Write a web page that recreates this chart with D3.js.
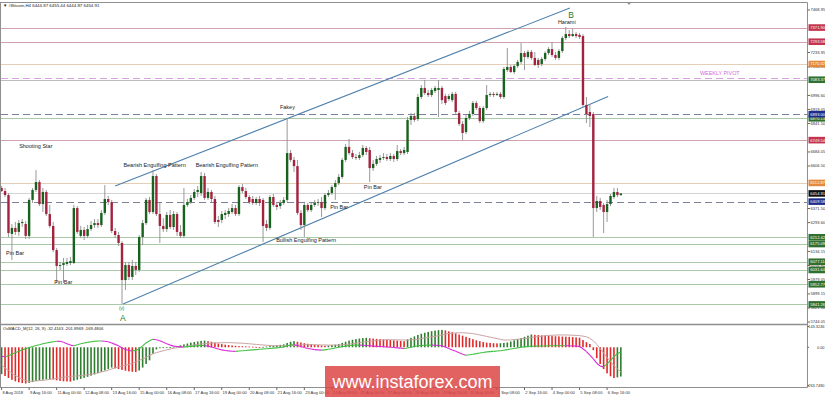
<!DOCTYPE html>
<html>
<head>
<meta charset="utf-8">
<script src="https://cdn.jsdelivr.net/npm/d3@7"></script>
<style>
  body { margin: 0; background: #fff; }
  svg { display: block; font-family: "Liberation Sans", Arial, sans-serif; }
</style>
</head>
<body>
<div id="chart"></div>
<script>
// H4 candles, one row per bar: [open, high, low, close], first bar 8 Aug 2018 08:00
const candles = [
  [6485,6496,6463,6468],[6468,6485,6435,6446],[6446,6457,6214,6236],[6231,6286,6087,6264],[6264,6297,6225,6242],
  [6242,6308,6220,6291],[6291,6313,6270,6297],[6286,6302,6203,6220],[6220,6430,6203,6419],[6419,6485,6402,6474],
  [6474,6584,6463,6518],[6518,6529,6385,6396],[6396,6485,6352,6463],[6463,6474,6330,6341],[6341,6391,6264,6275],
  [6275,6297,6131,6142],[6142,6153,5960,6054],[6054,6076,6032,6059],[6059,6098,5960,6070],[6065,6098,6054,6076],
  [6070,6103,6059,6081],[6070,6391,6065,6374],[6374,6385,6231,6242],[6220,6275,6208,6253],[6253,6269,6197,6220],
  [6220,6280,6208,6258],[6258,6302,6247,6280],[6280,6313,6264,6291],[6291,6313,6264,6280],[6280,6363,6269,6347],
  [6347,6501,6336,6424],[6424,6441,6391,6407],[6407,6419,6236,6247],[6247,6264,6208,6225],[6225,6242,6164,6181],
  [6181,6191,5844,5976],[5976,6076,5921,6059],[6059,6076,5976,5993],[5993,6087,5976,6054],[6054,6076,6004,6032],
  [6032,6225,6021,6214],[6214,6308,6170,6291],[6291,6430,6280,6419],[6419,6435,6341,6352],[6352,6584,6341,6551],
  [6551,6562,6330,6341],[6341,6402,6181,6275],[6275,6319,6242,6258],[6258,6352,6242,6336],[6336,6363,6258,6269],
  [6269,6358,6253,6341],[6341,6352,6220,6242],[6242,6280,6208,6220],[6220,6485,6208,6391],[6391,6424,6380,6407],
  [6407,6446,6396,6430],[6430,6479,6419,6463],[6463,6496,6435,6474],[6457,6573,6441,6551],[6551,6568,6419,6430],
  [6430,6485,6419,6463],[6463,6474,6407,6424],[6424,6441,6286,6297],[6308,6330,6269,6297],[6308,6358,6291,6341],
  [6336,6363,6313,6347],[6341,6374,6325,6358],[6352,6396,6341,6374],[6374,6391,6330,6341],[6341,6501,6330,6490],
  [6490,6507,6457,6468],[6468,6485,6424,6435],[6435,6446,6396,6407],[6424,6441,6391,6402],[6402,6435,6391,6424],
  [6424,6441,6385,6402],[6419,6430,6186,6275],[6286,6308,6247,6264],[6264,6446,6253,6435],[6435,6452,6380,6391],
  [6391,6407,6363,6380],[6385,6419,6369,6402],[6402,6435,6391,6419],[6419,6872,6407,6678],[6678,6695,6629,6640],
  [6640,6656,6573,6606],[6606,6640,6336,6347],[6347,6363,6253,6280],[6280,6402,6214,6391],[6391,6402,6352,6363],
  [6363,6408,6352,6391],[6391,6419,6380,6402],[6402,6424,6385,6407],[6407,6435,6325,6374],[6374,6457,6363,6446],
  [6446,6474,6435,6457],[6457,6501,6446,6490],[6490,6529,6419,6512],[6512,6562,6501,6546],[6546,6651,6535,6640],
  [6640,6728,6629,6712],[6712,6756,6667,6678],[6678,6695,6645,6656],[6656,6673,6640,6651],[6651,6684,6640,6667],
  [6667,6723,6656,6706],[6706,6717,6667,6684],[6695,6712,6518,6595],[6595,6640,6579,6618],[6618,6662,6607,6645],
  [6640,6667,6623,6651],[6651,6678,6640,6656],[6656,6673,6634,6645],[6645,6678,6634,6662],[6662,6673,6629,6645],
  [6645,6723,6634,6689],[6689,6700,6667,6678],[6678,6712,6667,6695],[6684,6877,6673,6861],[6861,6900,6833,6883],
  [6883,6900,6850,6861],[6866,7005,6855,6988],[6988,7054,6977,7038],[7038,7082,6999,7010],[7010,7027,6988,6999],
  [6999,7038,6988,7027],[7021,7049,7010,7038],[7027,7082,6877,7038],[7038,7049,6949,6971],[6993,7005,6944,6955],
  [6977,7005,6966,6993],[6971,7016,6960,7005],[7005,7016,6894,6905],[6899,6911,6828,6839],[6839,6855,6750,6789],
  [6794,6888,6783,6872],[6872,6911,6861,6894],[6894,6966,6883,6955],[6955,6966,6916,6927],[6927,6938,6844,6855],
  [6855,6938,6844,6927],[6927,7054,6916,6999],[6999,7016,6988,7005],[7005,7016,6988,6999],[6999,7016,6994,7005],
  [7005,7016,6977,6988],[6988,7154,6977,7143],[7137,7259,7126,7154],[7154,7165,7121,7126],[7126,7170,7115,7159],
  [7159,7193,7148,7182],[7182,7287,7170,7231],[7231,7242,7137,7209],[7209,7248,7198,7237],[7237,7248,7193,7204],
  [7204,7237,7159,7165],[7193,7204,7148,7165],[7170,7209,7159,7198],[7198,7242,7187,7231],[7231,7264,7220,7253],
  [7253,7292,7209,7220],[7220,7237,7193,7204],[7204,7253,7193,7242],[7242,7325,7231,7314],[7314,7375,7303,7336],
  [7336,7358,7314,7325],[7325,7364,7320,7336],[7336,7347,7314,7325],[7331,7342,7309,7320],[7325,7336,6933,6944],
  [6944,6988,6844,6894],[6905,6949,6822,6883],[6894,6905,6214,6374],[6374,6441,6352,6413],[6413,6430,6363,6380],
  [6391,6402,6236,6352],[6352,6419,6297,6396],[6396,6452,6385,6441],[6435,6485,6424,6463],[6463,6485,6435,6446],
  [6444.87,6455.44,6444.87,6454.91]
];

// OsMACD_M(12,26,9) buffers
const macdMain = [
  -185,-198,-212,-225,-235,-242,-247,-250,
  -246,-240,-233,-228,-224,-221,-219,
  -222,-228,-232,-235,-236,-237,
  -230,-224,-218,-211,-204,-196,-188,-179,-170,-160,-150,-140,
  -145,-150,-156,-162,-166,-169,-170,
  -160,-140,-115,-90,-45,-15,-6,-3,-1,2,4,
  8,14,20,26,32,36,40,44,46,
  42,38,32,26,22,18,15,12,10,
  8,7,6,5,4,3,2,
  3,5,8,11,14,17,20,30,38,42,
  38,33,28,24,21,18,15,12,10,
  12,15,18,22,30,38,46,52,56,60,63,65,
  62,60,58,56,54,52,50,48,46,44,42,
  55,65,75,85,93,100,106,111,115,118,120,
  116,110,104,96,88,80,72,64,56,48,42,36,32,
  30,28,27,28,30,33,
  40,48,56,64,72,80,88,
  86,84,82,80,78,77,76,75,74,73,72,70,68,66,
  50,35,22,
  -20,-75,-115,-150,-180,-200,-212,-208,-201.8969
];
const macdSignal = [
  -123,-142,-160,-178,-195,-208,-220,-229,-235,
  -234,-232,-230,-228,-225,-222,-219,-215,
  -211,-207,-203,-201,-199,-198,
  -195,-192,-189,-185,-181,-177,-170,-165,-158,-150,
  -142,-135,-129,-124,-118,-110,-101,
  -91,-81,-70,-58,-45,-37,-30,
  -24,-18,-12,-7,-3,0,
  4,8,12,16,20,23,
  25,27,29,30,31,31,32,32,
  31,30,29,28,26,24,22,20,
  18,16,14,12,11,10,10,10,
  11,12,13,15,16,17,18,18,
  17,17,16,16,15,15,15,15,
  17,19,21,25,28,32,35,38,
  41,44,47,50,51,52,52,52,
  51,51,50,50,51,53,56,60,
  64,68,72,75,80,85,90,95,
  97,99,100,100,99,97,94,90,
  85,80,75,70,65,60,55,50,
  50,51,53,55,58,61,64,68,
  71,74,77,80,82,83,84,85,
  85,85,84,83,82,80,77,
  72,62,45,20,-10,-40,-70,-100,-125,-150,-169.4806
];
const osma = [
  -62,-65,-58,-48,-38,-28,-18,-10,-2,
  5,12,18,24,30,34,38,42,
  41,35,25,15,10,18,
  24,29,34,38,41,43,43,42,38,30,
  20,10,-5,-15,-22,-25,-22,
  -10,10,30,45,55,52,45,
  35,25,15,8,5,3,
  2,4,6,8,10,12,
  12,8,2,-5,-12,-18,-22,-25,
  -27,-28,-26,-24,-22,-20,-18,-16,
  -14,-12,-10,-8,-6,-4,-2,2,
  10,16,18,12,5,-2,-8,-12,
  -16,-18,-20,-18,-14,-10,-5,0,
  4,8,12,14,15,15,14,12,
  10,8,6,5,4,2,0,-2,
  -4,-6,-8,-5,0,5,10,12,
  14,15,15,14,12,10,2,-8,
  -18,-28,-38,-48,-55,-52,-48,-44,
  -40,-36,-32,-30,-28,-26,-24,-20,
  -16,-12,-8,-4,0,3,5,7,
  8,8,9,9,10,10,10,10,
  11,11,10,9,8,5,-10,
  -30,-55,-80,-110,-130,-135,-115,-90,-65,-45,-32.4163
];

// time axis: bar index and label
const timeTickIndex = [0,8,16,24,32,40,48,56,64,72,80,88,96,104,112,120,128,136,144,152,160,168,176];
const timeTickText = ["8 Aug 2018","9 Aug 16:00","11 Aug 00:00","12 Aug 08:00","13 Aug 16:00","15 Aug 00:00",
  "16 Aug 08:00","17 Aug 16:00","19 Aug 00:00","20 Aug 08:00","21 Aug 16:00","23 Aug 00:00","24 Aug 08:00",
  "25 Aug 16:00","27 Aug 00:00","28 Aug 08:00","29 Aug 16:00","31 Aug 00:00","1 Sep 08:00","2 Sep 16:00",
  "4 Sep 00:00","5 Sep 08:00","6 Sep 16:00"];

// price axis tick labels
const priceTicks = [7468.95,7233.95,7154.05,6996.60,6919.05,6841.50,6684.05,6606.50,6371.50,6293.60,
  6134.15,6056.60,5979.05,5899.15,5821.60,5744.05];
const macdTicks = [143.3246, 0, -263.748];

// horizontal levels by kind
const redLevels = [7371.90, 7293.58, 6749.54];
const orangeLevels = [7170.32, 6512.87];
const greenLevels = [7083.37, 6870.13, 6212.42, 6175.09, 6077.11, 6031.64, 5952.77, 5841.26];
const navyLevels = [6893.00, 6409.58];
const weeklyPivot = 7092.21;
const lastPrice = 6454.91;

// channel: [barIndex, price] end points
const channelUpper = [[33, 6496], [165.2, 7480]];
const channelLower = [[35.3, 5844], [176.3, 6991]];

// annotation texts with anchor [barIndex, price]
const patternNotes = [
  ["Shooting Star", 5.1, 6706], ["Pin Bar", 1.3, 6114], ["Pin Bar", 15.3, 5954],
  ["Bearish Engulfing Pattern", 35.4, 6600], ["Bearish Engulfing Pattern", 56.4, 6600],
  ["Fakey", 80.9, 6922], ["Pin Bar", 105.3, 6479], ["Pin Bar", 95.5, 6369],
  ["Bullish Engulfing Pattern", 79.8, 6186], ["Harami", 161.7, 7391]
];
const wavePoints = [["B", 164.7, 7424], ["A", 34.4, 5749]];

const W = 825, H = 397;
const plotRight = 807.5, mainTop = 2.5, sep = 324.5, macdBottom = 387.5;

const svg = d3.select("#chart").append("svg")
  .attr("width", W).attr("height", H).attr("viewBox", [0, 0, W, H]);

const x = d3.scaleLinear().domain([0, 234]).range([1.6, 806.6]);
const y = d3.scaleLinear().domain([5744.05, 7468.95]).range([322, 10]);
const ym = d3.scaleLinear().domain([-263.748, 143.3246]).range([385.5, 326.5]);

const defs = svg.append("defs");
defs.append("clipPath").attr("id", "clipMain").append("rect")
  .attr("x", 1).attr("y", mainTop).attr("width", plotRight - 1).attr("height", sep - mainTop);
defs.append("clipPath").attr("id", "clipMacd").append("rect")
  .attr("x", 1).attr("y", sep + 1).attr("width", plotRight - 1).attr("height", macdBottom - sep - 1);

const main = svg.append("g").attr("clip-path", "url(#clipMain)");

// horizontal levels
function levelLines(values, color, dash) {
  main.selectAll(null).data(values).join("line")
    .attr("x1", 1).attr("x2", plotRight)
    .attr("y1", d => Math.round(y(d)) + 0.5).attr("y2", d => Math.round(y(d)) + 0.5)
    .attr("stroke", color).attr("stroke-width", 1)
    .attr("stroke-dasharray", dash || null);
}
levelLines([lastPrice], "#d4d4d4");
levelLines(redLevels, "#cfa3ad");
levelLines(orangeLevels, "#e2cfb6");
levelLines(greenLevels.slice(0, 1), "#bdbdbd");
levelLines(greenLevels.slice(1), "#a9c9a9");
levelLines(navyLevels, "#7e8299", "7,4");
levelLines([weeklyPivot], "#d8a2e0", "7,4");

main.append("text").attr("x", 700).attr("y", y(weeklyPivot) - 3)
  .attr("font-size", 5.4).attr("fill", "#d36ad8").text("WEEKLY PIVOT");

// channel lines
[channelUpper, channelLower].forEach(pts => {
  main.append("line")
    .attr("x1", x(pts[0][0])).attr("y1", y(pts[0][1]))
    .attr("x2", x(pts[1][0])).attr("y2", y(pts[1][1]))
    .attr("stroke", "#4f80ad").attr("stroke-width", 1.1);
});

// candles
main.selectAll("line.wick").data(candles).join("line").attr("class", "wick")
  .attr("x1", (d, i) => x(i)).attr("x2", (d, i) => x(i))
  .attr("y1", d => y(d[1])).attr("y2", d => y(d[2]))
  .attr("stroke", "#8d8d8d").attr("stroke-width", 0.9);
main.selectAll("rect.body").data(candles).join("rect").attr("class", "body")
  .attr("x", (d, i) => x(i) - 1.2).attr("width", 2.4)
  .attr("y", d => y(Math.max(d[0], d[3])))
  .attr("height", d => Math.max(0.9, Math.abs(y(d[0]) - y(d[3]))))
  .attr("fill", d => d[3] >= d[0] ? "#17621c" : "#a3233f");

// annotations
main.selectAll("text.note").data(patternNotes).join("text").attr("class", "note")
  .attr("x", d => x(d[1])).attr("y", d => y(d[2]))
  .attr("font-size", 5.5).attr("fill", "#222").text(d => d[0]);
main.selectAll("text.wave").data(wavePoints).join("text").attr("class", "wave")
  .attr("x", d => x(d[1])).attr("y", d => y(d[2]))
  .attr("font-size", 8.5).attr("fill", "#2b7a2b").text(d => d[0]);
main.append("text").attr("x", x(34.1)).attr("y", y(5810))
  .attr("font-size", 4.6).attr("fill", "#2b7a2b").text("(v)");

// header
svg.append("text").attr("x", 3).attr("y", 7).attr("font-size", 4.4).attr("fill", "#222")
  .text("\u25BC #Bitcoin,H4  6444.87 6455.44 6444.87 6454.91");

// MACD panel
const macd = svg.append("g").attr("clip-path", "url(#clipMacd)");
macd.selectAll("rect.hist").data(macdMain).join("rect").attr("class", "hist")
  .attr("x", (d, i) => x(i) - 0.8).attr("width", 1.6)
  .attr("y", d => Math.min(ym(0), ym(d)))
  .attr("height", d => Math.max(0.8, Math.abs(ym(d) - ym(0))))
  .attr("fill", (d, i) => (i === 0 || d >= macdMain[i - 1]) ? "#2f7d2f" : "#e02a2a");

macd.append("path").datum(macdSignal)
  .attr("d", d3.line().x((d, i) => x(i)).y(d => ym(d)))
  .attr("fill", "none").attr("stroke", "#c9a3a3").attr("stroke-width", 1);

macd.selectAll("line.osma").data(osma.slice(1)).join("line").attr("class", "osma")
  .attr("x1", (d, i) => x(i)).attr("y1", (d, i) => ym(osma[i]))
  .attr("x2", (d, i) => x(i + 1)).attr("y2", d => ym(d))
  .attr("stroke", (d, i) => d >= osma[i] ? "#3fbf3f" : "#d92bd9")
  .attr("stroke-width", 1.1);

svg.append("text").attr("x", 3).attr("y", 330).attr("font-size", 4.2).attr("fill", "#222")
  .text("OsMACD_M(12, 26, 9) -32.4163 -201.8969 -169.4806");

// frames
const frame = svg.append("g").attr("stroke", "#8f8f8f").attr("fill", "none");
frame.append("line").attr("x1", 0).attr("x2", plotRight).attr("y1", mainTop).attr("y2", mainTop);
frame.append("line").attr("x1", 0.5).attr("x2", 0.5).attr("y1", mainTop).attr("y2", macdBottom);
frame.append("line").attr("x1", plotRight).attr("x2", plotRight).attr("y1", mainTop).attr("y2", macdBottom);
frame.append("line").attr("x1", 0).attr("x2", plotRight).attr("y1", sep).attr("y2", sep).attr("stroke-width", 1.6);
frame.append("line").attr("x1", 0).attr("x2", plotRight).attr("y1", macdBottom).attr("y2", macdBottom);
svg.append("path").attr("d", `M627,${mainTop}L631,${mainTop}L629,${mainTop + 2.5}Z`).attr("fill", "#8f8f8f");

// price axis
const axisG = svg.append("g").attr("font-size", 4.1).attr("fill", "#333");
axisG.selectAll("line").data(priceTicks).join("line")
  .attr("x1", plotRight).attr("x2", plotRight + 2.5)
  .attr("y1", d => y(d)).attr("y2", d => y(d)).attr("stroke", "#666");
axisG.selectAll("text").data(priceTicks).join("text")
  .attr("x", 810.5).attr("y", d => y(d)).attr("dy", "0.35em")
  .text(d => d.toFixed(2));

const macdAxis = svg.append("g").attr("font-size", 3.9).attr("fill", "#333");
macdAxis.selectAll("line").data(macdTicks).join("line")
  .attr("x1", plotRight).attr("x2", plotRight + 1.5)
  .attr("y1", d => ym(d)).attr("y2", d => ym(d)).attr("stroke", "#666");
macdAxis.selectAll("text").data(macdTicks).join("text")
  .attr("x", 824.5).attr("text-anchor", "end").attr("y", d => ym(d)).attr("dy", "0.35em")
  .text(d => d === 0 ? "0.00" : d.toFixed(4));

// coloured price labels
function priceTags(values, color) {
  const tg = svg.append("g");
  tg.selectAll("rect").data(values).join("rect")
    .attr("x", 808.5).attr("y", d => y(d) - 3.3).attr("width", 16.5).attr("height", 6.6)
    .attr("fill", color);
  tg.selectAll("text").data(values).join("text")
    .attr("x", 810.3).attr("y", d => y(d)).attr("dy", "0.35em")
    .attr("font-size", 4.1).attr("fill", "#fff").text(d => d.toFixed(2));
}
priceTags(redLevels, "#c3344f");
priceTags(orangeLevels, "#e48a3e");
priceTags(greenLevels, "#2f6f2f");
priceTags(navyLevels, "#1f2d8a");
priceTags([lastPrice], "#111");

// time axis
const timeG = svg.append("g").attr("font-size", 4.1).attr("fill", "#333");
timeG.selectAll("line").data(timeTickIndex).join("line")
  .attr("x1", d => x(d)).attr("x2", d => x(d))
  .attr("y1", macdBottom).attr("y2", macdBottom + 2.5).attr("stroke", "#666");
timeG.selectAll("text").data(timeTickIndex).join("text")
  .attr("x", d => x(d) + 0.8).attr("y", 394)
  .text((d, i) => timeTickText[i]);

// watermark
svg.append("rect").attr("x", 325).attr("y", 366).attr("width", 175).attr("height", 31)
  .attr("fill", "#dd4747").attr("opacity", 0.85);
svg.append("text").attr("x", 412.5).attr("y", 388).attr("text-anchor", "middle")
  .attr("font-size", 18).attr("fill", "#fff").text("www.instaforex.com");
</script>
</body>
</html>
